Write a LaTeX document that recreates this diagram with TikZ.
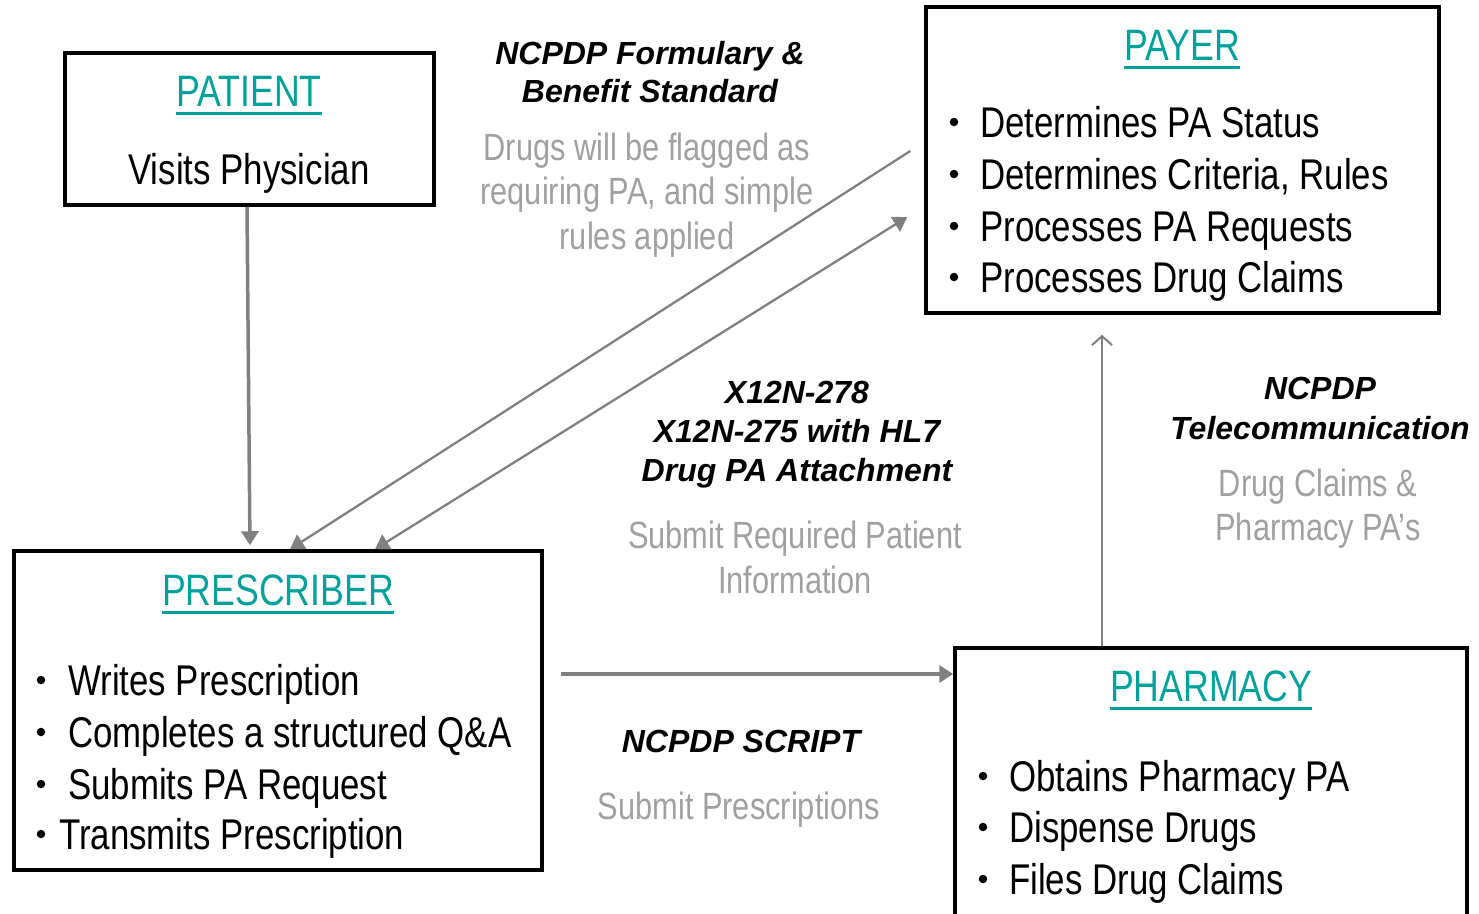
\documentclass[tikz,border=0pt]{standalone}
\usepackage{fontspec}
\setmainfont{Liberation Sans}[FakeStretch=0.81]
\newfontfamily\labfont{Liberation Sans}
\usetikzlibrary{arrows.meta}
\definecolor{tealc}{HTML}{00A19A}
\definecolor{arrg}{HTML}{808080}
\definecolor{txtg}{HTML}{A0A0A0}
\begin{document}
\begin{tikzpicture}[x=1pt,y=-1pt,
 box/.style={draw=black,line width=3.5pt,inner sep=0pt},
 ttl/.style={text=tealc,font=\fontsize{44}{44}\selectfont,inner sep=0pt,anchor=base},
 uline/.style={tealc,line width=3.3pt},
 itm/.style={font=\fontsize{43}{43}\selectfont,inner sep=0pt,anchor=base west},
 bul/.style={fill=black,circle,inner sep=0pt,minimum size=8.5pt},
 lab/.style={font=\labfont\bfseries\itshape\fontsize{32}{32}\selectfont,inner sep=0pt,anchor=base},
 gtx/.style={text=txtg,font=\fontsize{38}{38}\selectfont,inner sep=0pt,anchor=base},
 fat/.style={draw=arrg,line width=3.5pt,-{Triangle[length=14pt,width=17pt]}},
 diag/.style={draw=arrg,line width=2.3pt,-{Triangle[length=14pt,width=17pt]}},
 diagb/.style={draw=arrg,line width=2.3pt,{Triangle[length=14pt,width=17pt]}-{Triangle[length=14pt,width=17pt]}},
 thinarr/.style={draw=arrg,line width=2pt,-{Straight Barb[length=9pt,width=20pt]}},
]
\clip (0,0) rectangle (1479,913);
\useasboundingbox (0,0) rectangle (1479,913);

% boxes
\node[box,minimum width=369pt,minimum height=152pt] (patient) at (249.5,129) {};
\node[box,minimum width=513pt,minimum height=306pt] (payer) at (1182.5,160) {};
\node[box,minimum width=528pt,minimum height=319pt] (prescriber) at (278,710.5) {};
\node[box,minimum width=512pt,minimum height=290pt] (pharmacy) at (1211,793) {};

% PATIENT
\node[ttl] (tpat) at (249,106) {PATIENT};
\draw[uline] ([yshift=-7.5pt]tpat.base west) -- ([yshift=-7.5pt]tpat.base east);
\node[itm,anchor=base] (pat1) at (249,184) {Visits Physician};

% PAYER
\node[ttl] (tpay) at (1182,60) {PAYER};
\draw[uline] ([yshift=-7.5pt]tpay.base west) -- ([yshift=-7.5pt]tpay.base east);
\node[bul] (pb1) at (954,122) {};
\node[itm] (py1) at (980,137) {Determines PA Status};
\node[bul] (pb2) at (954,174) {};
\node[itm] (py2) at (980,189) {Determines Criteria, Rules};
\node[bul] (pb3) at (954,226) {};
\node[itm] (py3) at (980,241) {Processes PA Requests};
\node[bul] (pb4) at (954,277) {};
\node[itm] (py4) at (980,292) {Processes Drug Claims};

% PRESCRIBER
\node[ttl] (tpre) at (278,605) {PRESCRIBER};
\draw[uline] ([yshift=-7.5pt]tpre.base west) -- ([yshift=-7.5pt]tpre.base east);
\node[bul] (rb1) at (41,680) {};
\node[itm] (pr1) at (68,695) {Writes Prescription};
\node[bul] (rb2) at (41,732) {};
\node[itm] (pr2) at (68,747) {Completes a structured Q\&A};
\node[bul] (rb3) at (41,784) {};
\node[itm] (pr3) at (68,799) {Submits PA Request};
\node[bul] (rb4) at (41,834) {};
\node[itm] (pr4) at (59,849) {Transmits Prescription};

% PHARMACY
\node[ttl] (tpha) at (1211,701) {PHARMACY};
\draw[uline] ([yshift=-7.5pt]tpha.base west) -- ([yshift=-7.5pt]tpha.base east);
\node[bul] (hb1) at (983,776) {};
\node[itm] (ph1) at (1009,791) {Obtains Pharmacy PA};
\node[bul] (hb2) at (983,827) {};
\node[itm] (ph2) at (1009,842) {Dispense Drugs};
\node[bul] (hb3) at (983,879) {};
\node[itm] (ph3) at (1009,894) {Files Drug Claims};

% labels
\node[lab] (l1a) at (650,64) {NCPDP Formulary \&};
\node[lab] (l1b) at (650,102) {Benefit Standard};
\node[gtx] (g1a) at (647,160) {Drugs will be flagged as};
\node[gtx] (g1b) at (647,204) {requiring PA, and simple};
\node[gtx] (g1c) at (647,249) {rules applied};

\node[lab] (l2a) at (797,403) {X12N-278};
\node[lab] (l2b) at (797,442) {X12N-275 with HL7};
\node[lab] (l2c) at (797,481) {Drug PA Attachment};
\node[gtx] (g2a) at (795,548) {Submit Required Patient};
\node[gtx] (g2b) at (795,593) {Information};

\node[lab] (l3a) at (1320,399) {NCPDP};
\node[lab] (l3b) at (1320,439) {Telecommunication};
\node[gtx] (g3a) at (1318,496) {Drug Claims \&};
\node[gtx] (g3b) at (1318,540) {Pharmacy PA’s};

\node[lab] (l4a) at (741,752) {NCPDP SCRIPT};
\node[gtx] (g4a) at (739,819) {Submit Prescriptions};

% connectors
\draw[fat,shorten >=4pt] ([xshift=-2.5pt]patient.south) -- ([xshift=-28pt]prescriber.north);
\draw[diag] ([xshift=-14pt,yshift=9pt]payer.west) -- ([xshift=12pt]prescriber.north);
\draw[diagb] ([xshift=97pt]prescriber.north) -- ([xshift=-17pt,yshift=-57pt]payer.west);
\coordinate (hs) at ([xshift=17pt,yshift=36.5pt]prescriber.east);
\draw[fat] (hs) -- (hs -| pharmacy.west);
\coordinate (vs) at ([xshift=-109pt]pharmacy.north);
\draw[thinarr,shorten >=20pt] (vs) -- (vs |- payer.south);
\end{tikzpicture}
\end{document}
